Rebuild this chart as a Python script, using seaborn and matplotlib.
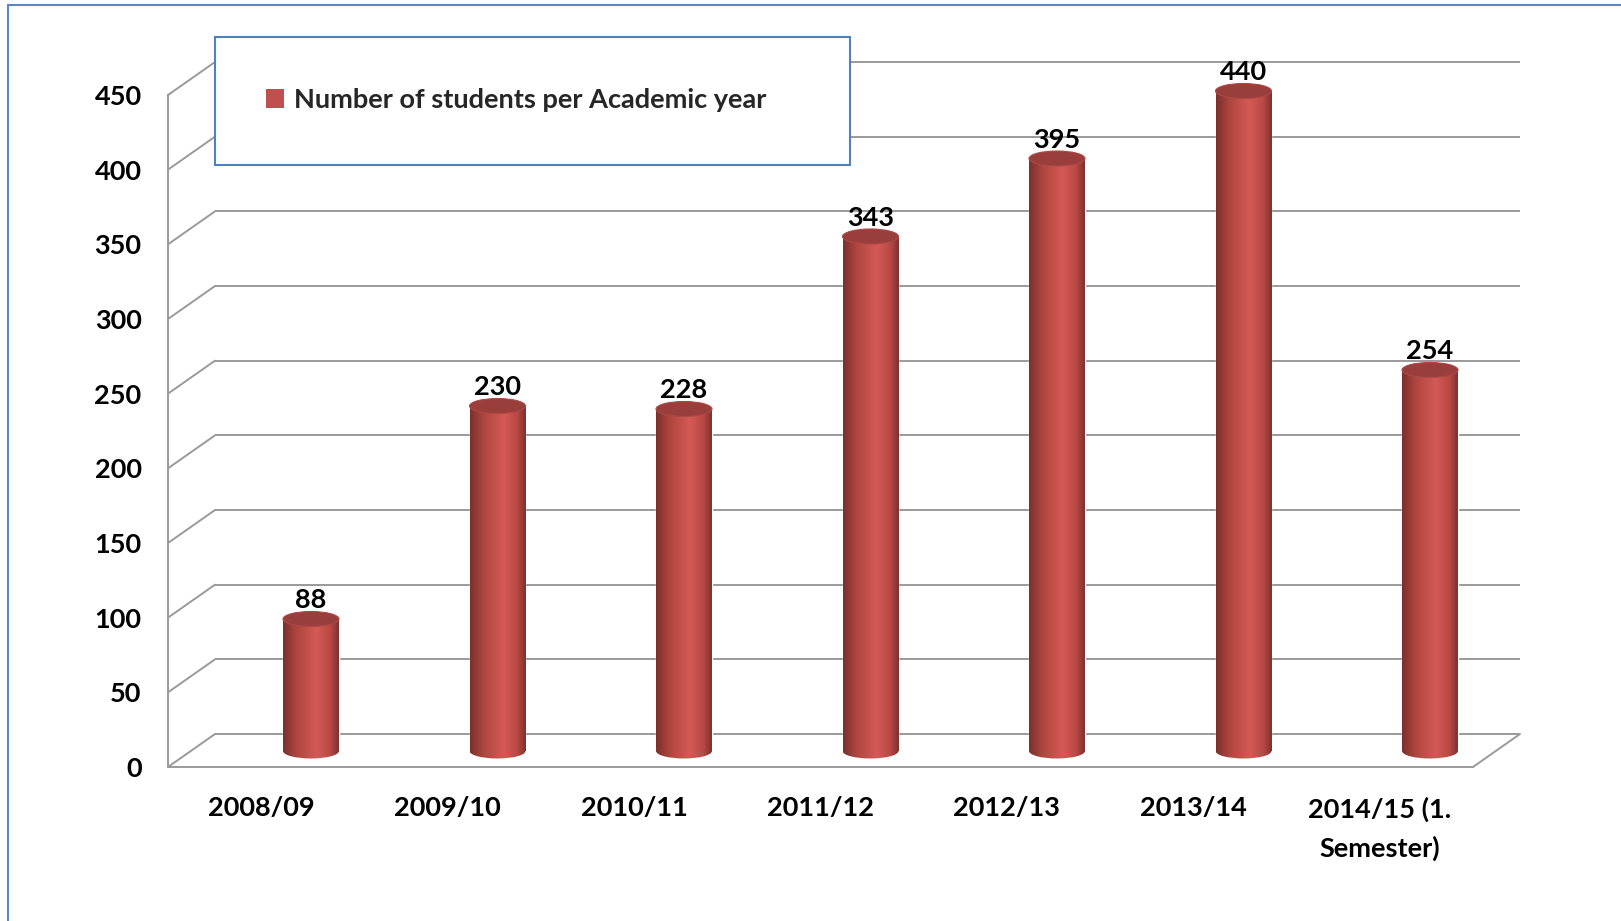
import numpy as np
import pandas as pd
import matplotlib
matplotlib.use("Agg")
import matplotlib.pyplot as plt
import seaborn as sns
from matplotlib.patches import Ellipse, Rectangle
from matplotlib.lines import Line2D
from matplotlib.colors import LinearSegmentedColormap

# ---------------- data ----------------
categories = ["2008/09", "2009/10", "2010/11", "2011/12", "2012/13", "2013/14",
              "2014/15 (1.\nSemester)"]
students = [88, 230, 228, 343, 395, 440, 254]
y_ticks = [0, 50, 100, 150, 200, 250, 300, 350, 400, 450]
series_name = "Number of students per Academic year"

# ---------------- setup ----------------
W, H = 1621, 921
sns.set_theme(style="white")
plt.rcParams["font.family"] = ["Lato", "DejaVu Sans"]
plt.rcParams["font.weight"] = "bold"

fig = plt.figure(figsize=(W / 100, H / 100), dpi=100)
fig.patch.set_facecolor("white")


def fx(px):
    return px / W


def fy(py):
    return 1 - py / H


n = len(categories)
FS = 19.5
grid_c = "#9a9a9a"
lw = 1.4

# ---------------- frame axes (front plane) ----------------
fl, fr, fb, ft = 168, 1473, 767, 95
ax = fig.add_axes([fx(fl), fy(fb), fx(fr - fl), (fb - ft) / H])
ax.set_xlim(-0.5, n - 0.5)
ax.set_ylim(0, 450)
ax.patch.set_alpha(0)
for s in ["top", "right"]:
    ax.spines[s].set_visible(False)
for s in ["left", "bottom"]:
    ax.spines[s].set_color(grid_c)
    ax.spines[s].set_linewidth(lw)
ax.set_yticks(y_ticks)
ax.set_yticklabels([str(v) for v in y_ticks], fontsize=FS, fontweight="bold")
ax.set_xticks(range(n))
ax.set_xticklabels(categories, fontsize=FS, fontweight="bold", linespacing=1.65)
ax.set_xticks(np.arange(-0.5, n, 1.0), minor=True)
ax.tick_params(axis="x", which="major", length=0, pad=21, colors="black")
ax.tick_params(axis="x", which="minor", length=6, width=lw, color=grid_c, direction="out")
ax.tick_params(axis="y", length=6, width=lw, color=grid_c, direction="out", pad=13,
               labelcolor="black")

# back wall + side diagonals (3D frame look)
dx = 47 / ((fr - fl) / n)
dy = 33 / ((fb - ft) / 450)
for v in y_ticks:
    ax.plot([-0.5 + dx, n - 0.5 + dx], [v + dy, v + dy], color=grid_c, lw=lw,
            clip_on=False, solid_capstyle="butt")
    ax.plot([-0.5, -0.5 + dx], [v, v + dy], color=grid_c, lw=lw, clip_on=False)
ax.plot([n - 0.5, n - 0.5 + dx], [0, dy], color=grid_c, lw=lw, clip_on=False)

# ---------------- bars axes (cylinders) ----------------
B = 751
px_per_unit = 1.50
ymin = -15
bar_top_px = B - 450 * px_per_unit
bar_bot_px = B - ymin * px_per_unit
step = 186.5
c0 = 311
bl, br = c0 - step / 2, c0 + (n - 1) * step + step / 2
ax2 = fig.add_axes([fx(bl), fy(bar_bot_px), fx(br - bl), (bar_bot_px - bar_top_px) / H])
df = pd.DataFrame({"year": categories, "students": students})
sns.barplot(data=df, x="year", y="students", color="#C0504D", width=0.3,
            saturation=1, ax=ax2, label=series_name, zorder=2)
if ax2.get_legend() is not None:
    ax2.get_legend().remove()

cmap = LinearSegmentedColormap.from_list(
    "cyl", [(0.0, "#7a302e"), (0.25, "#b1463f"), (0.6, "#d45a56"),
            (0.85, "#b84845"), (1.0, "#7c312f")])
grad = np.linspace(0, 1, 256).reshape(1, -1)
ell_h = 15 / px_per_unit

container = ax2.containers[0]
for p in container.patches:
    x0, w, h = p.get_x(), p.get_width(), p.get_height()
    xc = x0 + w / 2
    im = ax2.imshow(grad, extent=(x0, x0 + w, 0, h), aspect="auto", cmap=cmap,
                    zorder=2.1, interpolation="bilinear")
    im.set_clip_path(p)
    bottom = Ellipse((xc, 0), w, ell_h, facecolor="none", edgecolor="none")
    ax2.add_patch(bottom)
    im2 = ax2.imshow(grad, extent=(x0, x0 + w, -ell_h / 2, 0.5), aspect="auto",
                     cmap=cmap, zorder=2.05, interpolation="bilinear")
    im2.set_clip_path(bottom)
    top = Ellipse((xc, h), w, ell_h, facecolor="#9a3e3c", edgecolor="#ad4845",
                  lw=0.8, zorder=3)
    ax2.add_patch(top)

ax2.bar_label(container, labels=[str(v) for v in students], padding=5,
              fontsize=FS, fontweight="bold", color="black")
ax2.set_xlim(-0.5, n - 0.5)
ax2.set_ylim(ymin, 450)
ax2.axis("off")

# ---------------- legend ----------------
box = Rectangle((fx(215), fy(165)), fx(850 - 215), (165 - 37) / H,
                transform=fig.transFigure, facecolor="white", edgecolor="#4f81bd",
                lw=1.5, zorder=5)
fig.add_artist(box)
handles = [Rectangle((0, 0), 1, 1, facecolor="#C0504D", edgecolor="none")]
leg = fig.legend(handles, [series_name], loc="center left",
                 bbox_to_anchor=(fx(266), fy(100)), bbox_transform=fig.transFigure,
                 frameon=False, borderpad=0, borderaxespad=0, handlelength=0.65,
                 handleheight=0.65, handletextpad=0.4,
                 prop={"weight": "bold", "size": FS})
leg.set_zorder(10)

# ---------------- outer border ----------------
fig.add_artist(Line2D([fx(8), fx(8)], [0, fy(5)], transform=fig.transFigure,
                      color="#5b87c7", lw=1.5))
fig.add_artist(Line2D([fx(8), 1], [fy(5), fy(5)], transform=fig.transFigure,
                      color="#5b87c7", lw=1.5))

fig.savefig("out.png", dpi=100, facecolor="white")
